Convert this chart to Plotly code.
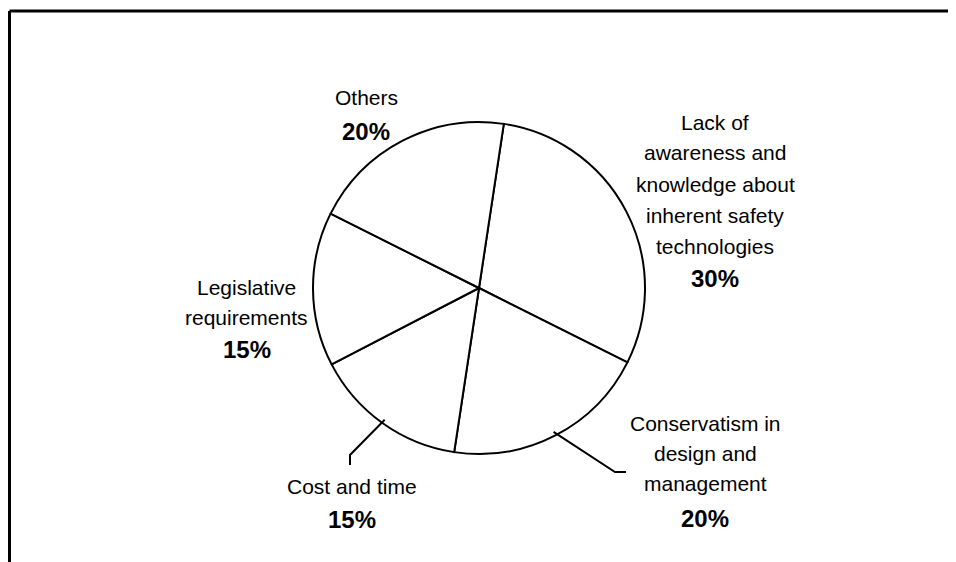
import math
import plotly.graph_objects as go

# ---- data ----
categories = [
    "Lack of awareness and knowledge about inherent safety technologies",
    "Conservatism in design and management",
    "Cost and time",
    "Legislative requirements",
    "Others",
]
values = [30, 20, 15, 15, 20]
label_lines = [
    ["Lack of", "awareness and", "knowledge about", "inherent safety", "technologies"],
    ["Conservatism in", "design and", "management"],
    ["Cost and time"],
    ["Legislative", "requirements"],
    ["Others"],
]

# ---- layout constants (page pixels) ----
OFF = 8                      # default body margin of the html page
W, H = 956 - OFF, 562 - OFF  # figure size
CX, CY, R = 479, 288, 166
ROT = 8.6
# label block: centre x, first line y, line gap, gap to percentage
blocks = [
    (715, 122, 31, 32),
    (705, 423, 30, 35),
    (352, 486, 30, 33),
    (247, 287, 30, 32),
    (366, 98, 30, 34),
]
# leader lines (elbow, end) for slices that have them
leaders = {1: [(615, 472), (626, 472)], 2: [(350, 455), (350, 465)]}


def px(x):
    return (x - OFF) / W


def py(y):
    return 1 - (y - OFF) / H


fig = go.Figure(
    go.Pie(
        labels=categories,
        values=values,
        sort=False,
        direction="clockwise",
        rotation=ROT,
        textinfo="none",
        hoverinfo="label+percent",
        marker=dict(colors=["white"] * len(values), line=dict(color="black", width=2)),
        domain=dict(x=[px(CX - R), px(CX + R)], y=[py(CY + R), py(CY - R)]),
        showlegend=False,
    )
)

total = sum(values)
annotations = []
shapes = []
for i, (lines, (bx, by, gap, pgap)) in enumerate(zip(label_lines, blocks)):
    y = by
    for ln in lines:
        annotations.append(dict(x=px(bx), y=py(y), xref="paper", yref="paper", text=ln,
                                showarrow=False, xanchor="center", yanchor="middle",
                                font=dict(family="Liberation Sans, Arial", size=21, color="black")))
        y += gap
    y = y - gap + pgap
    pct = round(values[i] / total * 100)
    annotations.append(dict(x=px(bx), y=py(y), xref="paper", yref="paper", text=f"<b>{pct}%</b>",
                            showarrow=False, xanchor="center", yanchor="middle",
                            font=dict(family="Liberation Sans, Arial", size=24, color="black")))

# leader lines computed from slice mid-angles
cum = 0
for i, v in enumerate(values):
    mid = ROT + (cum + v / 2) / total * 360
    cum += v
    if i in leaders:
        a = math.radians(mid)
        sx = CX + (R - 4) * math.sin(a)
        sy = CY - (R - 4) * math.cos(a)
        pts = [(sx, sy)] + leaders[i]
        path = "M " + " L ".join(f"{px(x)},{py(y)}" for x, y in pts)
        shapes.append(dict(type="path", path=path, xref="paper", yref="paper",
                           line=dict(color="black", width=2)))

# frame (top and left edges)
shapes.append(dict(type="line", xref="paper", yref="paper", x0=px(9.5), y0=py(11), x1=1, y1=py(11),
                   line=dict(color="black", width=3)))
shapes.append(dict(type="line", xref="paper", yref="paper", x0=px(9.5), y0=py(11), x1=px(9.5), y1=0,
                   line=dict(color="black", width=3)))

fig.update_layout(
    width=W, height=H,
    margin=dict(l=0, r=0, t=0, b=0),
    paper_bgcolor="white", plot_bgcolor="white",
    annotations=annotations,
    shapes=shapes,
)

fig.write_html("out.html")
